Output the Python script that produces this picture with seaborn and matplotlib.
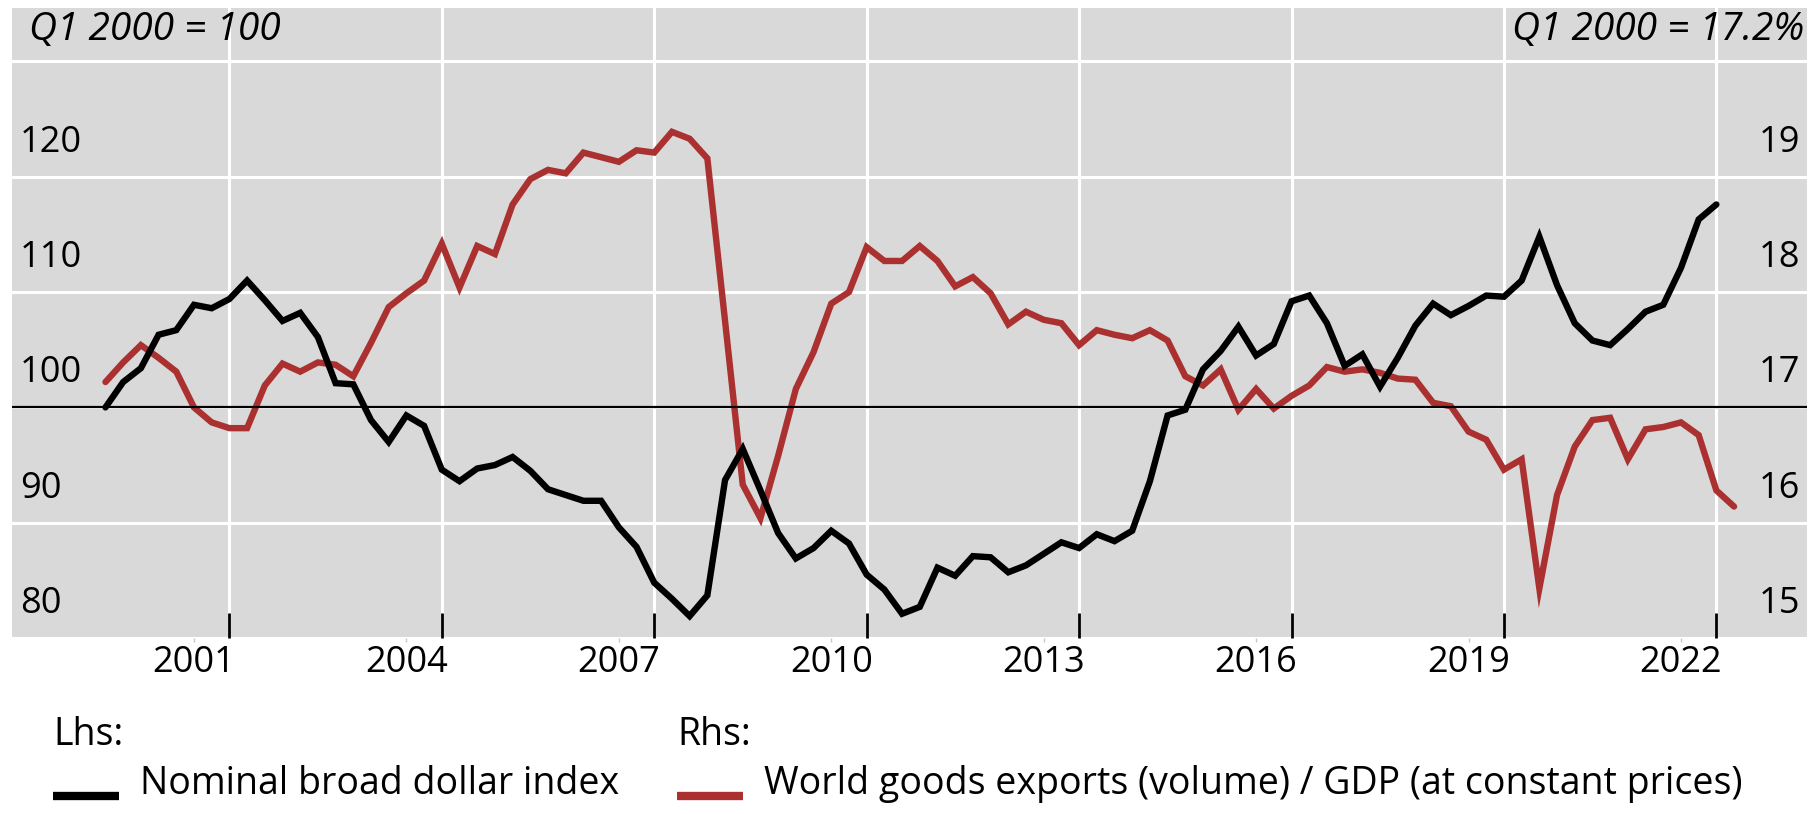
import pandas as pd
import seaborn as sns
import matplotlib.pyplot as plt
from matplotlib import transforms
from matplotlib.lines import Line2D
from matplotlib.legend_handler import HandlerLine2D

# quarterly series, starting Q1 2000
first_quarter = '2000Q1'

# Lhs: nominal broad dollar index, Q1 2000 = 100
dollar_index = [
    100.0, 102.2, 103.4, 106.3, 106.7, 108.9, 108.6, 109.4, 111.0, 109.3,
    107.5, 108.2, 106.1, 102.1, 102.0, 98.9, 97.0, 99.3, 98.4, 94.6,
    93.6, 94.7, 95.0, 95.7, 94.5, 92.9, 92.4, 91.9, 91.9, 89.6,
    87.9, 84.8, 83.4, 81.9, 83.7, 93.7, 96.4, 92.8, 89.1, 86.9,
    87.8, 89.3, 88.2, 85.5, 84.2, 82.1, 82.7, 86.1, 85.4, 87.1,
    87.0, 85.7, 86.3, 87.3, 88.3, 87.8, 89.0, 88.4, 89.3, 93.6,
    99.3, 99.8, 103.3, 104.9, 107.0, 104.5, 105.5, 109.2, 109.7, 107.3,
    103.6, 104.6, 101.8, 104.3, 107.1, 109.0, 108.0, 108.8, 109.7, 109.6,
    111.0, 114.8, 110.6, 107.3, 105.8, 105.4, 106.8, 108.3, 108.9, 112.1,
    116.3, 117.6,
]

# Rhs: world goods exports (volume) / GDP, in %
exports_gdp = [
    17.22, 17.39, 17.54, 17.43, 17.31, 17.00, 16.87, 16.82, 16.82, 17.19,
    17.38, 17.31, 17.39, 17.37, 17.27, 17.56, 17.87, 17.99, 18.10, 18.42,
    18.04, 18.40, 18.33, 18.76, 18.98, 19.06, 19.03, 19.21, 19.17, 19.13,
    19.23, 19.21, 19.39, 19.33, 19.16, 17.75, 16.33, 16.04, 16.58, 17.16,
    17.48, 17.90, 18.00, 18.39, 18.27, 18.27, 18.40, 18.27, 18.05, 18.13,
    17.99, 17.72, 17.83, 17.76, 17.73, 17.54, 17.67, 17.63, 17.60, 17.67,
    17.58, 17.27, 17.19, 17.33, 16.98, 17.16, 16.99, 17.10, 17.19, 17.35,
    17.31, 17.33, 17.30, 17.25, 17.24, 17.04, 17.01, 16.79, 16.72, 16.46,
    16.55, 15.43, 16.24, 16.66, 16.89, 16.91, 16.55, 16.81, 16.83, 16.87,
    16.76, 16.28, 16.14,
]

year_labels = list(range(2001, 2023, 3))
lhs_ticks = [80, 90, 100, 110, 120]
rhs_ticks = [15, 16, 17, 18, 19]
lhs_label = 'Nominal broad dollar index'
rhs_label = 'World goods exports (volume) / GDP (at constant prices)'

BLACK = '#000000'
RED = '#ab3131'
FS = 26


def quarter_ends(n):
    # quarters plotted at the end of each quarter, as decimal years
    p = pd.period_range(first_quarter, periods=n, freq='Q')
    return p.year + p.quarter / 4


class BaselineLine(HandlerLine2D):
    # legend key drawn at the text baseline instead of mid-height
    def create_artists(self, legend, orig_handle, xdescent, ydescent, width,
                       height, fontsize, trans):
        return super().create_artists(legend, orig_handle, xdescent, ydescent, width,
                                      ydescent - 0.1 * fontsize, fontsize, trans)


dollar = pd.DataFrame({'date': quarter_ends(len(dollar_index)), 'value': dollar_index})
exports = pd.DataFrame({'date': quarter_ends(len(exports_gdp)), 'value': exports_gdp})

sns.set_theme(style='darkgrid', rc={
    'axes.facecolor': '#d9d9d9',
    'grid.color': 'white',
    'grid.linewidth': 2.2,
    'text.color': 'black',
    'xtick.color': 'black',
    'ytick.color': 'black',
})
plt.rcParams['font.family'] = ['Open Sans', 'DejaVu Sans']

fig = plt.figure(figsize=(18.09, 8.14), dpi=100)
fig.patch.set_facecolor('white')
ax = fig.add_axes([12 / 1809, 176 / 814, 1795 / 1809, 630 / 814])
ax2 = ax.twinx()

# grey panel and grid live on the rhs axis, black line sits on top
ax.set_zorder(2)
ax2.set_zorder(1)
ax.patch.set_visible(False)
ax2.patch.set_visible(True)
ax2.patch.set_facecolor('#d9d9d9')

sns.lineplot(data=exports, x='date', y='value', ax=ax2, color=RED, linewidth=4.6,
             solid_capstyle='round', solid_joinstyle='miter')
sns.lineplot(data=dollar, x='date', y='value', ax=ax, color=BLACK, linewidth=4.6,
             solid_capstyle='round', solid_joinstyle='miter')
ax.axhline(100, color=BLACK, linewidth=1.6, zorder=1)

ax.set_xlim(1998.93, 2024.28)
ax.set_ylim(80, 134.64)
ax2.set_ylim(15, 20.464)

# year boundaries get ticks and grid, labels sit mid-year
ax.set_xticks([y + 1 for y in year_labels])
ax.set_xticklabels([])
ax.set_xticks([y + 0.5 for y in year_labels], minor=True)
ax.set_xticklabels([str(y) for y in year_labels], minor=True, fontsize=FS)
ax.tick_params(axis='x', which='major', direction='in', length=18, width=2,
               color=BLACK, bottom=True)
ax.tick_params(axis='x', which='minor', length=3, width=1, color='#c8c8c8',
               direction='out', pad=2, bottom=True)

ax.set_yticks(lhs_ticks + [130])
ax.tick_params(axis='y', left=False, labelleft=False, right=False, labelright=False)
ax.grid(False)

ax2.xaxis.set_visible(True)
ax2.tick_params(axis='x', which='both', bottom=False, top=False,
                labelbottom=False, labeltop=False)
ax2.set_yticks(rhs_ticks + [20])
ax2.tick_params(axis='y', left=False, right=False, labelleft=False, labelright=False)
ax2.grid(True, which='major', axis='both')
ax2.grid(False, which='minor')

for a in (ax, ax2):
    a.set_xlabel('')
    a.set_ylabel('')
    for s in a.spines.values():
        s.set_visible(False)

# tick values printed just above their grid lines
lhs_trans = transforms.offset_copy(ax.get_yaxis_transform(), fig=fig, y=25, units='dots')
rhs_trans = transforms.offset_copy(ax2.get_yaxis_transform(), fig=fig, y=25, units='dots')
for v in lhs_ticks:
    ax.text(0.0045, v, str(v), transform=lhs_trans, ha='left', va='baseline', fontsize=FS)
for v in rhs_ticks:
    ax2.text(0.996, v, str(v), transform=rhs_trans, ha='right', va='baseline', fontsize=FS)

ax.text(0.0095, 0.995, 'Q1 2000 = 100', transform=ax.transAxes, ha='left', va='top',
        fontsize=28, style='italic')
ax.text(0.9985, 0.995, 'Q1 2000 = 17.2%', transform=ax.transAxes, ha='right', va='top',
        fontsize=28, style='italic')

leg_kw = dict(loc='upper left', frameon=False, alignment='left', fontsize=27,
              title_fontsize=27, handlelength=1.76, handletextpad=0.55,
              borderpad=0, borderaxespad=0, labelspacing=0.3,
              handler_map={Line2D: BaselineLine()})
leg1 = fig.legend(handles=[Line2D([], [], color=BLACK, lw=6, solid_capstyle='butt')],
                  labels=[lhs_label], title='Lhs:',
                  bbox_to_anchor=(53 / 1809, 1 - 716 / 814), **leg_kw)
leg2 = fig.legend(handles=[Line2D([], [], color=RED, lw=6, solid_capstyle='butt')],
                  labels=[rhs_label], title='Rhs:',
                  bbox_to_anchor=(677 / 1809, 1 - 716 / 814), **leg_kw)

fig.savefig('out.png', dpi=100)
